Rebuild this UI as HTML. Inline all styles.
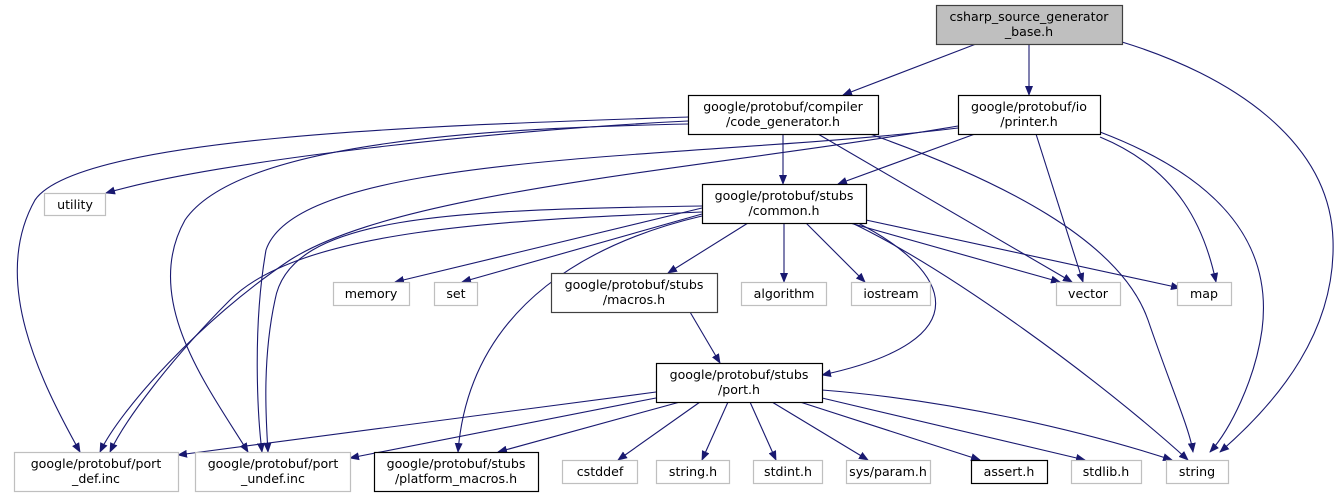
<!DOCTYPE html>
<html><head><meta charset="utf-8"><style>
html,body{margin:0;padding:0;background:#fff;}
svg text{font-family:"DejaVu Sans","Liberation Sans",sans-serif;font-size:12.6px;fill:#000;}
</style></head><body>
<svg width="1339" height="499" viewBox="0 0 1339 499" xmlns="http://www.w3.org/2000/svg">
<defs><marker id="a" markerWidth="10" markerHeight="8" refX="9" refY="4" orient="auto" markerUnits="userSpaceOnUse"><path d="M0,0 L10,4 L0,8 z" fill="#191970"/></marker></defs>
<g fill="none" stroke="#191970" stroke-width="1.1" marker-end="url(#a)">
<path d="M976,44 L843,95"/>
<path d="M1029,44 L1029,95"/>
<path d="M1122,42 C1230,75 1330,140 1333,240 C1336,330 1280,400 1220,452"/>
<path d="M783,134 L783,184"/>
<path d="M688,121 C500,130 220,160 106,193"/>
<path d="M688,117 C450,125 80,135 35,200 C-10,280 40,380 80,452"/>
<path d="M688,124 C500,128 240,140 185,220 C140,300 210,390 248,452"/>
<path d="M818,134 L1072,282"/>
<path d="M870,134 C1000,180 1120,240 1148,320 C1172,390 1190,430 1193,452"/>
<path d="M975,134 L838,184"/>
<path d="M1036,134 L1083,282"/>
<path d="M1100,137 C1180,170 1205,230 1216,282"/>
<path d="M1100,132 C1200,170 1275,230 1262,330 C1255,380 1230,430 1210,452"/>
<path d="M958,126 C700,170 400,190 290,260 C200,320 120,410 100,452"/>
<path d="M958,128 C700,160 300,150 266,250 C252,330 258,420 262,452"/>
<path d="M748,223 L668,273"/>
<path d="M784,223 L784,282"/>
<path d="M806,223 L865,282"/>
<path d="M850,223 L1060,282"/>
<path d="M866,220 L1180,288"/>
<path d="M852,223 C950,270 1100,380 1188,460"/>
<path d="M858,223 C950,270 985,340 822,375"/>
<path d="M702,208 L395,282"/>
<path d="M702,214 L462,282"/>
<path d="M702,216 C600,240 470,300 458,452"/>
<path d="M702,212 C500,220 300,230 230,300 C170,360 125,420 110,452"/>
<path d="M702,206 C450,210 290,215 275,300 C262,360 266,420 268,452"/>
<path d="M690,312 L720,363"/>
<path d="M656,392 L178,455"/>
<path d="M656,398 L350,458"/>
<path d="M680,402 L498,452"/>
<path d="M700,402 L618,460"/>
<path d="M728,402 L702,460"/>
<path d="M750,402 L776,460"/>
<path d="M772,402 L868,460"/>
<path d="M800,402 L980,460"/>
<path d="M822,398 L1085,460"/>
<path d="M822,390 C950,400 1080,430 1172,460"/>
</g>
<g stroke-width="1.2">
<rect x="936.5" y="5.5" width="186" height="39" fill="#bfbfbf" stroke="#404040"/>
<rect x="688.5" y="95.5" width="190" height="39" fill="#fff" stroke="#000"/>
<rect x="958.5" y="95.5" width="142" height="39" fill="#fff" stroke="#000"/>
<rect x="44.5" y="193.5" width="61" height="22" fill="#fff" stroke="#bfbfbf"/>
<rect x="702.5" y="184.5" width="164" height="39" fill="#fff" stroke="#000"/>
<rect x="333.5" y="282.5" width="76" height="23" fill="#fff" stroke="#bfbfbf"/>
<rect x="434.5" y="282.5" width="43" height="23" fill="#fff" stroke="#bfbfbf"/>
<rect x="551.5" y="273.5" width="166" height="39" fill="#fff" stroke="#404040"/>
<rect x="741.5" y="282.5" width="85" height="23" fill="#fff" stroke="#bfbfbf"/>
<rect x="851.5" y="282.5" width="79" height="23" fill="#fff" stroke="#bfbfbf"/>
<rect x="1056.5" y="282.5" width="64" height="23" fill="#fff" stroke="#bfbfbf"/>
<rect x="1177.5" y="282.5" width="54" height="23" fill="#fff" stroke="#bfbfbf"/>
<rect x="656.5" y="363.5" width="166" height="39" fill="#fff" stroke="#000"/>
<rect x="14.5" y="452.5" width="164" height="39" fill="#fff" stroke="#bfbfbf"/>
<rect x="195.5" y="452.5" width="155" height="39" fill="#fff" stroke="#bfbfbf"/>
<rect x="374.5" y="452.5" width="164" height="39" fill="#fff" stroke="#000"/>
<rect x="562.5" y="460.5" width="75" height="23" fill="#fff" stroke="#bfbfbf"/>
<rect x="656.5" y="460.5" width="73" height="23" fill="#fff" stroke="#bfbfbf"/>
<rect x="753.5" y="460.5" width="69" height="23" fill="#fff" stroke="#bfbfbf"/>
<rect x="846.5" y="460.5" width="84" height="23" fill="#fff" stroke="#bfbfbf"/>
<rect x="971.5" y="460.5" width="76" height="23" fill="#fff" stroke="#000"/>
<rect x="1071.5" y="460.5" width="70" height="23" fill="#fff" stroke="#bfbfbf"/>
<rect x="1166.5" y="460.5" width="62" height="23" fill="#fff" stroke="#bfbfbf"/>
</g>
<g text-anchor="middle">
<text x="1029" y="21">csharp_source_generator</text><text x="1029" y="36">_base.h</text>
<text x="783" y="111">google/protobuf/compiler</text><text x="783" y="126">/code_generator.h</text>
<text x="1029" y="111">google/protobuf/io</text><text x="1029" y="126">/printer.h</text>
<text x="75" y="209">utility</text>
<text x="784" y="200">google/protobuf/stubs</text><text x="784" y="215">/common.h</text>
<text x="371" y="298">memory</text>
<text x="456" y="298">set</text>
<text x="634" y="289">google/protobuf/stubs</text><text x="634" y="304">/macros.h</text>
<text x="784" y="298">algorithm</text>
<text x="891" y="298">iostream</text>
<text x="1088" y="298">vector</text>
<text x="1204" y="298">map</text>
<text x="739" y="379">google/protobuf/stubs</text><text x="739" y="394">/port.h</text>
<text x="96" y="468">google/protobuf/port</text><text x="96" y="483">_def.inc</text>
<text x="273" y="468">google/protobuf/port</text><text x="273" y="483">_undef.inc</text>
<text x="456" y="468">google/protobuf/stubs</text><text x="456" y="483">/platform_macros.h</text>
<text x="600" y="476">cstddef</text>
<text x="693" y="476">string.h</text>
<text x="788" y="476">stdint.h</text>
<text x="888" y="476">sys/param.h</text>
<text x="1009" y="476">assert.h</text>
<text x="1106" y="476">stdlib.h</text>
<text x="1197" y="476">string</text>
</g>
</svg>
</body></html>
